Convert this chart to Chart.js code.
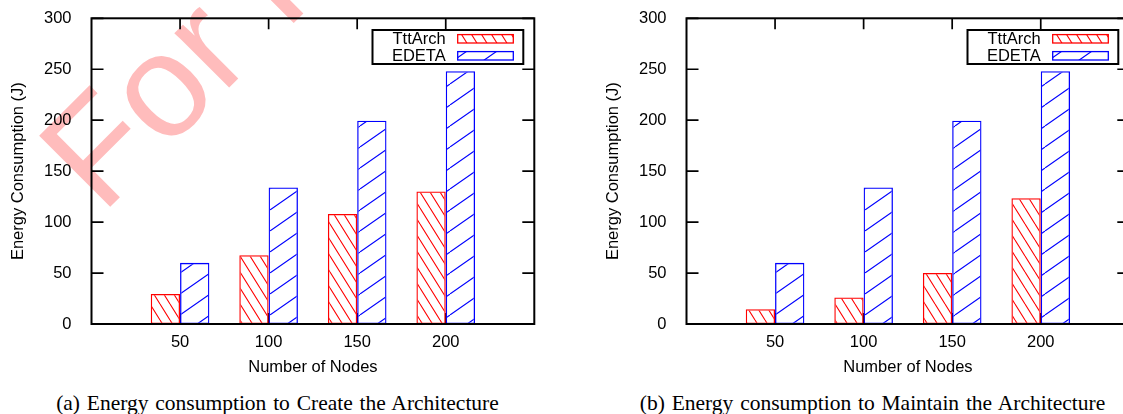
<!DOCTYPE html>
<html>
<head>
<meta charset="utf-8">
<script src="https://cdn.jsdelivr.net/npm/chart.js@4.4.1/dist/chart.umd.min.js"></script>
<style>
  html, body { margin: 0; padding: 0; background: #fff; overflow: hidden; }
  body { width: 1123px; height: 414px; position: relative; }
  .watermark {
    position: absolute; left: 102px; top: 91.5px;
    font-family: "Liberation Sans", Arial, sans-serif; font-size: 146px; line-height: 146px;
    color: #ffbcbc; white-space: nowrap;
    transform-origin: 0 123.5px; transform: rotate(-45deg);
  }
  .panel { position: absolute; top: 0; width: 595px; height: 414px; }
  .panel canvas { position: absolute; left: 0; top: 0; }
  .caption {
    position: absolute; left: 0; width: 555px; top: 392.5px; text-align: center;
    font-family: "Liberation Serif", "Times New Roman", serif; font-size: 21.5px; line-height: 21.5px;
    word-spacing: 1.4px; white-space: nowrap; color: #000;
  }
</style>
</head>
<body>
<div class="watermark">For Review</div>
<div class="panel" style="left:0">
  <canvas id="create-chart" width="595" height="380"></canvas>
  <div class="caption">(a) Energy consumption to Create the Architecture</div>
</div>
<div class="panel" style="left:595px">
  <canvas id="maintain-chart" width="595" height="380"></canvas>
  <div class="caption">(b) Energy consumption to Maintain the Architecture</div>
</div>
<script>
// number of nodes on the x axis
const nodeCounts = [50, 100, 150, 200];

// (a) create the architecture
const createTttArch = [29.5, 67.5, 108, 130];
const createEdeta = [60, 134, 199.5, 248];

// (b) maintain the architecture
const maintainTttArch = [14.5, 26, 50, 123.5];
const maintainEdeta = [60, 134, 199.5, 248];

const seriesNames = ["TttArch", "EDETA"];
const xTitle = "Number of Nodes";
const yTitle = "Energy Consumption (J)";

Chart.defaults.font.family = '"Liberation Sans", Arial, sans-serif';
Chart.defaults.font.size = 16.5;
Chart.defaults.color = "#000";

function hatch(color, w, h, rising) {
  const c = document.createElement("canvas");
  c.width = w;
  c.height = h;
  const g = c.getContext("2d");
  g.strokeStyle = color;
  g.lineWidth = 1.1;
  g.beginPath();
  for (let k = -1; k <= 1; k++) {
    if (rising) {
      g.moveTo(k * w, h);
      g.lineTo(k * w + w, 0);
    } else {
      g.moveTo(k * w, 0);
      g.lineTo(k * w + w, h);
    }
  }
  g.stroke();
  return g.createPattern(c, "repeat");
}

// gnuplot style border: inward ticks on all four sides, box frame and key
const frame = {
  id: "frame",
  beforeDatasetsDraw(chart) {
    const { ctx, chartArea: a, scales } = chart;
    const x = scales.x;
    const y = scales.y;
    ctx.save();
    ctx.strokeStyle = "#000";
    ctx.lineWidth = 1.7;
    ctx.beginPath();
    y.ticks.forEach((t) => {
      const py = y.getPixelForValue(t.value);
      ctx.moveTo(a.left, py);
      ctx.lineTo(a.left + 12, py);
      ctx.moveTo(a.right, py);
      ctx.lineTo(a.right - 12, py);
    });
    nodeCounts.forEach((n) => {
      const px = x.getPixelForValue(n);
      ctx.moveTo(px, a.top);
      ctx.lineTo(px, a.top + 11);
      ctx.moveTo(px, a.bottom);
      ctx.lineTo(px, a.bottom - 11);
    });
    ctx.stroke();
    ctx.restore();
  },
  afterDatasetsDraw(chart) {
    const { ctx, chartArea: a } = chart;
    ctx.save();
    ctx.strokeStyle = "#000";
    ctx.lineWidth = 2;
    ctx.strokeRect(a.left, a.top, a.right - a.left, a.bottom - a.top);

    const r = a.right;
    ctx.strokeRect(r - 161.8, a.top + 11.7, 150.8, 34);
    ctx.font = Chart.defaults.font.size + "px " + Chart.defaults.font.family;
    ctx.textAlign = "right";
    ctx.textBaseline = "middle";
    chart.data.datasets.forEach((ds, i) => {
      const cy = a.top + 20.5 + i * 17;
      ctx.fillStyle = "#000";
      ctx.fillText(ds.label, r - 88.6, cy + 1);
      ctx.fillStyle = ds.backgroundColor;
      ctx.fillRect(r - 76.6, cy - 4.2, 55.6, 8.4);
      ctx.strokeStyle = ds.borderColor;
      ctx.lineWidth = 1.3;
      ctx.strokeRect(r - 76.6, cy - 4.2, 55.6, 8.4);
    });
    ctx.restore();
  },
};

function makeChart(id, tttArch, edeta) {
  return new Chart(document.getElementById(id), {
    type: "bar",
    data: {
      datasets: [
        {
          label: seriesNames[0],
          data: nodeCounts.map((n, i) => ({ x: n, y: tttArch[i] })),
          backgroundColor: hatch("#ff0000", 10, 16, false),
          borderColor: "#ff0000",
          borderWidth: 1.3,
          borderSkipped: false,
        },
        {
          label: seriesNames[1],
          data: nodeCounts.map((n, i) => ({ x: n, y: edeta[i] })),
          backgroundColor: hatch("#0000ff", 30, 21, true),
          borderColor: "#0000ff",
          borderWidth: 1.3,
          borderSkipped: false,
        },
      ],
    },
    options: {
      responsive: false,
      animation: false,
      categoryPercentage: 0.662,
      barPercentage: 1,
      layout: { padding: { top: 18.3, right: 60.7, bottom: 0, left: 0 } },
      plugins: { legend: { display: false }, tooltip: { enabled: false } },
      scales: {
        x: {
          type: "linear",
          min: 0,
          max: 250,
          offset: false,
          grid: { display: false },
          border: { display: false },
          ticks: {
            stepSize: 50,
            padding: 1,
            maxRotation: 0,
            autoSkip: false,
            callback: (v) => (nodeCounts.includes(v) ? String(v) : ""),
          },
          title: { display: true, text: xTitle, padding: { top: 0, bottom: 3 } },
          afterFit: (s) => {
            s.height = 56;
          },
        },
        y: {
          min: 0,
          max: 300,
          grid: { display: false },
          border: { display: false },
          ticks: { stepSize: 50, padding: 12 },
          title: { display: true, text: yTitle, padding: { top: 8.6, bottom: 0 } },
          afterFit: (s) => {
            s.width = 91.5;
            s.paddingTop = 0;
            s.paddingBottom = 0;
          },
        },
      },
    },
    plugins: [frame],
  });
}

makeChart("create-chart", createTttArch, createEdeta);
makeChart("maintain-chart", maintainTttArch, maintainEdeta);
</script>
</body>
</html>
